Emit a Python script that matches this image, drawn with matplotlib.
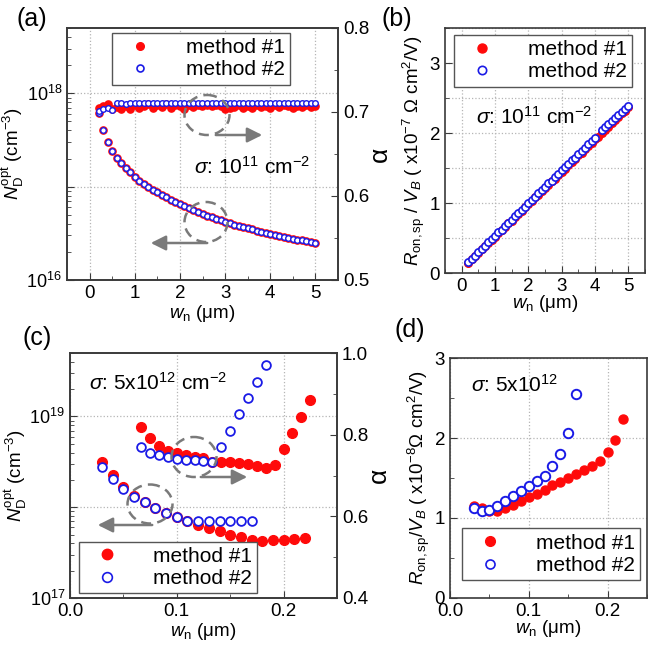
import matplotlib
matplotlib.use('Agg')
import matplotlib.pyplot as plt
from matplotlib.lines import Line2D
from matplotlib.patches import Ellipse, FancyArrowPatch
from matplotlib.ticker import MultipleLocator, LogLocator, NullFormatter, FixedLocator

plt.rcParams['font.family'] = ['Liberation Sans', 'DejaVu Sans']
plt.rcParams['mathtext.fontset'] = 'custom'
plt.rcParams['mathtext.rm'] = 'Liberation Sans'
plt.rcParams['mathtext.it'] = 'Liberation Sans:italic'
plt.rcParams['mathtext.bf'] = 'Liberation Sans:bold'
plt.rcParams['xtick.direction'] = 'in'
plt.rcParams['ytick.direction'] = 'in'

RED = '#ff0a0a'
BLUE = '#1a1ae6'
GREY = '#7a7a7a'

# ---- (a) sigma = 1e11, w_n in um ----
w_a = [0.2, 0.3, 0.4, 0.5, 0.6, 0.7, 0.8, 0.9, 1.0, 1.1, 1.2, 1.3, 1.4, 1.5, 1.6, 1.7,
       1.8, 1.9, 2.0, 2.1, 2.2, 2.3, 2.4, 2.5, 2.6, 2.7, 2.8, 2.9, 3.0, 3.1, 3.2, 3.3,
       3.4, 3.5, 3.6, 3.7, 3.8, 3.9, 4.0, 4.1, 4.2, 4.3, 4.4, 4.5, 4.6, 4.7, 4.8, 4.9, 5.0]
# N_D^opt in units of 1e16 cm^-3 (both methods overlap)
nd_a = [61, 40, 30, 24, 20.4, 18.0, 15.9, 14.3, 12.7, 11.6, 10.7, 9.9, 9.3, 8.7, 8.2, 7.7,
        7.2, 6.9, 6.5, 6.15, 5.9, 5.6, 5.35, 5.1, 4.9, 4.7, 4.52, 4.35, 4.2, 4.06, 3.93, 3.81,
        3.69, 3.58, 3.48, 3.38, 3.29, 3.2, 3.12, 3.04, 2.97, 2.9, 2.83, 2.77, 2.71, 2.65, 2.59, 2.54, 2.48]
alpha_a1 = [0.705, 0.707, 0.709, 0.704, 0.706, 0.703, 0.707, 0.704, 0.708, 0.705, 0.707, 0.709,
            0.705, 0.708, 0.706, 0.709, 0.705, 0.708, 0.707, 0.704, 0.708, 0.706, 0.708, 0.707,
            0.708, 0.707, 0.708, 0.707, 0.703, 0.705, 0.706, 0.708, 0.705, 0.707, 0.705, 0.708,
            0.706, 0.707, 0.705, 0.708, 0.706, 0.708, 0.707, 0.705, 0.707, 0.706, 0.708, 0.706, 0.707]
alpha_a2 = [0.701, 0.703, 0.705, 0.702, 0.711, 0.711, 0.710, 0.711, 0.711, 0.711, 0.711, 0.711,
            0.711, 0.711, 0.711, 0.711, 0.711, 0.711, 0.711, 0.711, 0.711, 0.711, 0.711, 0.711,
            0.711, 0.711, 0.711, 0.711, 0.711, 0.711, 0.711, 0.711, 0.711, 0.711, 0.711, 0.711,
            0.711, 0.711, 0.711, 0.711, 0.711, 0.711, 0.711, 0.711, 0.711, 0.711, 0.711, 0.711, 0.711]

# ---- (b) R_on,sp / V_B, x1e-7 ----
w_b1 = w_a
r_b1 = [0.15, 0.20, 0.24, 0.29, 0.34, 0.38, 0.43, 0.47, 0.52, 0.57, 0.61, 0.66, 0.71, 0.75,
        0.80, 0.84, 0.89, 0.94, 0.98, 1.03, 1.08, 1.12, 1.17, 1.21, 1.26, 1.31, 1.35, 1.40,
        1.45, 1.49, 1.54, 1.58, 1.63, 1.68, 1.72, 1.77, 1.82, 1.86, 1.91, 1.95, 2.00, 2.05,
        2.09, 2.14, 2.18, 2.23, 2.28, 2.32, 2.37]
w_b2 = [0.2, 0.3, 0.4, 0.5, 0.6, 0.7, 0.8, 0.9, 1.0, 1.1, 1.2, 1.3, 1.4, 1.5, 1.6, 1.7,
        1.8, 1.9, 2.0, 2.1, 2.2, 2.3, 2.4, 2.5, 2.6, 2.7, 2.8, 2.9, 3.0, 3.1, 3.2, 3.3,
        3.4, 3.5, 3.6, 3.7, 3.8, 3.9, 4.0, 4.2, 4.3, 4.4, 4.5, 4.6, 4.7, 4.8, 4.9, 5.0]
r_b2 = [0.16, 0.20, 0.25, 0.30, 0.34, 0.39, 0.44, 0.48, 0.53, 0.58, 0.62, 0.67, 0.72, 0.76,
        0.81, 0.86, 0.90, 0.95, 1.00, 1.04, 1.09, 1.14, 1.18, 1.23, 1.28, 1.32, 1.37, 1.42,
        1.47, 1.51, 1.56, 1.61, 1.65, 1.70, 1.75, 1.79, 1.84, 1.89, 1.93, 2.05, 2.09, 2.13,
        2.17, 2.22, 2.26, 2.30, 2.35, 2.39]

# ---- (c) sigma = 5e12 ----
w_c_alpha1 = [0.0667, 0.075, 0.0833, 0.0917, 0.1, 0.1083, 0.1167, 0.125, 0.1333, 0.1417,
              0.15, 0.1583, 0.1667, 0.175, 0.1833, 0.1917, 0.2, 0.2083, 0.2167, 0.225]
alpha_c1 = [0.820, 0.791, 0.773, 0.760, 0.754, 0.750, 0.746, 0.742, 0.734, 0.733,
            0.734, 0.730, 0.729, 0.723, 0.719, 0.725, 0.764, 0.803, 0.844, 0.885]
w_c_alpha2 = [0.0667, 0.075, 0.0833, 0.0917, 0.1, 0.1083, 0.1167, 0.125, 0.1333, 0.1417,
              0.15, 0.1583, 0.1667, 0.175, 0.1833]
alpha_c2 = [0.771, 0.756, 0.749, 0.745, 0.740, 0.739, 0.738, 0.735, 0.733, 0.771,
            0.810, 0.850, 0.891, 0.930, 0.971]
w_c_nd1 = [0.03, 0.04, 0.05, 0.06, 0.07, 0.08, 0.09, 0.10, 0.11, 0.12,
           0.13, 0.14, 0.15, 0.16, 0.17, 0.18, 0.19, 0.20, 0.21, 0.22]
nd_c1 = [31.8, 22.7, 16.8, 13.4, 11.5, 9.9, 8.7, 7.8, 7.0, 6.4,
         5.9, 5.5, 5.0, 4.7, 4.4, 4.2, 4.3, 4.4, 4.5, 4.6]   # x1e17
w_c_nd2 = [0.03, 0.04, 0.05, 0.06, 0.07, 0.08, 0.09, 0.10, 0.11, 0.12,
           0.13, 0.14, 0.15, 0.16, 0.17]
nd_c2 = [28.0, 20.5, 15.8, 13.1, 11.3, 9.8, 8.7, 7.8, 7.0, 7.0,
         7.0, 7.0, 7.0, 7.0, 7.0]

# ---- (d) R_on,sp / V_B, x1e-8 ----
w_d1 = [0.03, 0.04, 0.05, 0.06, 0.07, 0.08, 0.09, 0.10, 0.11, 0.12,
        0.13, 0.14, 0.15, 0.16, 0.17, 0.18, 0.19, 0.20, 0.21, 0.22]
r_d1 = [1.154, 1.125, 1.09, 1.09, 1.125, 1.166, 1.208, 1.258, 1.304, 1.354,
        1.408, 1.446, 1.50, 1.55, 1.596, 1.646, 1.708, 1.821, 1.971, 2.237]
w_d2 = [0.03, 0.04, 0.05, 0.06, 0.07, 0.08, 0.09, 0.10, 0.11, 0.12, 0.13, 0.14, 0.15, 0.16]
r_d2 = [1.125, 1.083, 1.104, 1.154, 1.208, 1.27, 1.333, 1.396, 1.458, 1.529, 1.646, 1.80, 2.062, 2.554]

W, H = 667, 652
fig = plt.figure(figsize=(W / 100, H / 100), dpi=100)


def px(l, t, r, b):
    return [l / W, 1 - b / H, (r - l) / W, (b - t) / H]


def style(ax):
    for s in ax.spines.values():
        s.set_color('#3a3a3a')
        s.set_linewidth(1.2)
    ax.tick_params(which='both', labelsize=13.5, color='#3a3a3a', top=False)
    ax.tick_params(which='major', length=5)
    ax.tick_params(which='minor', length=3)


grid_kw = dict(color='#b5b5b5', linestyle=':', linewidth=0.9)
xlab = r'$w_{\rm n}$ (μm)'


def legend(ax, ms=6, **kw):
    h = [Line2D([], [], ls='none', marker='o', color=RED, ms=ms),
         Line2D([], [], ls='none', marker='o', mfc='white', mec=BLUE, mew=1.2, ms=ms - 0.5)]
    lg = ax.legend(h, ['method #1', 'method #2'], fontsize=15, fancybox=False,
                   edgecolor='#555555', framealpha=1, handletextpad=1.1, handlelength=2.2,
                   borderpad=0.25, labelspacing=0.15, borderaxespad=0, **kw)
    lg.get_frame().set_linewidth(1.0)
    return lg


# ---------- (a) ----------
ax = fig.add_axes(px(67, 28, 338, 280))
style(ax)
ax.set_yscale('log')
ax.set_xlim(-0.5, 5.5)
ax.set_ylim(1e16, 5e18)
ax.xaxis.set_major_locator(MultipleLocator(1))
ax.xaxis.set_minor_locator(MultipleLocator(0.5))
ax.set_yticks([1e16, 1e17, 1e18])
ax.set_yticklabels([r'$10^{16}$', '', r'$10^{18}$'])
ax.yaxis.set_minor_locator(LogLocator(base=10, subs=(2, 3, 4, 5, 6, 7, 8, 9)))
ax.yaxis.set_minor_formatter(NullFormatter())
ax.tick_params(axis='y', labelsize=13)
ax.grid(True, which='major', **grid_kw)
nd_a_cm = [v * 1e16 for v in nd_a]
ax.plot(w_a, nd_a_cm, 'o', color=RED, ms=5.2, zorder=3)
ax.plot(w_a, nd_a_cm, 'o', mfc='white', mec=BLUE, mew=1.0, ms=4.0, zorder=4)
ax.set_xlabel(xlab, fontsize=13.5, labelpad=1)
ax.set_ylabel(r'$N_{\rm D}^{\rm opt}$ (cm$^{-3}$)', fontsize=13.5, labelpad=0)
ax2 = ax.twinx()
style(ax2)
ax2.set_ylim(0.5, 0.8)
ax2.yaxis.set_major_locator(MultipleLocator(0.1))
ax2.yaxis.set_minor_locator(MultipleLocator(0.05))
ax2.plot(w_a, alpha_a1, 'o', color=RED, ms=5.2, zorder=3)
ax2.plot(w_a, alpha_a2, 'o', mfc='white', mec=BLUE, mew=1.0, ms=4.0, zorder=4)
ax2.set_ylabel('α', fontsize=19, labelpad=-1)
ax2.text(0.683, 0.448, r'$\sigma$: 10$^{11}$ cm$^{-2}$', transform=ax2.transAxes,
         fontsize=15, ha='center', va='center')
legend(ax2, ms=5.5, loc='upper center', bbox_to_anchor=(0.494, 0.98))

# ---------- (b) ----------
ax = fig.add_axes(px(445, 28, 645, 273))
style(ax)
ax.set_xlim(-0.5, 5.5)
ax.set_ylim(0, 3.5)
ax.xaxis.set_major_locator(MultipleLocator(1))
ax.xaxis.set_minor_locator(MultipleLocator(0.5))
ax.yaxis.set_major_locator(FixedLocator([0, 1, 2, 3]))
ax.yaxis.set_minor_locator(MultipleLocator(0.5))
ax.grid(True, which='major', axis='x', **grid_kw)
ax.grid(True, which='both', axis='y', **grid_kw)
ax.plot(w_b1, r_b1, 'o', color=RED, ms=5.5, zorder=3)
ax.plot(w_b2, r_b2, 'o', mfc='white', mec=BLUE, mew=1.2, ms=5.2, zorder=4)
ax.set_xlabel(xlab, fontsize=13.5, labelpad=-1)
ax.set_ylabel(r'$R_{\rm on,sp}$ / $V_B$ ( x10$^{-7}$ Ω cm$^2$/V)', fontsize=13.5, labelpad=2)
ax.text(0.445, 0.637, r'$\sigma$: 10$^{11}$ cm$^{-2}$', transform=ax.transAxes,
        fontsize=15, ha='center', va='center')
legend(ax, ms=6.5, loc='upper center', bbox_to_anchor=(0.49, 0.971))

# ---------- (c) ----------
ax = fig.add_axes(px(70, 353, 337, 598))
style(ax)
ax.set_yscale('log')
ax.set_xlim(0, 0.25)
ax.set_ylim(1e17, 5e19)
ax.set_xticks([0.0, 0.1, 0.2])
ax.set_xticklabels(['0.0', '0.1', '0.2'])
ax.xaxis.set_minor_locator(MultipleLocator(0.05))
ax.set_yticks([1e17, 1e18, 1e19])
ax.set_yticklabels([r'$10^{17}$', '', r'$10^{19}$'])
ax.yaxis.set_minor_locator(LogLocator(base=10, subs=(2, 3, 4, 5, 6, 7, 8, 9)))
ax.yaxis.set_minor_formatter(NullFormatter())
ax.tick_params(axis='y', labelsize=13)
ax.grid(True, which='major', **grid_kw)
ax.plot(w_c_nd1, [v * 1e17 for v in nd_c1], 'o', color=RED, ms=7, zorder=3)
ax.plot(w_c_nd2, [v * 1e17 for v in nd_c2], 'o', mfc='white', mec=BLUE, mew=1.3, ms=6.3, zorder=4)
ax.set_xlabel(xlab, fontsize=13.5, labelpad=1)
ax.set_ylabel(r'$N_{\rm D}^{\rm opt}$ (cm$^{-3}$)', fontsize=13.5, labelpad=0)
ax2 = ax.twinx()
style(ax2)
ax2.set_ylim(0.4, 1.0)
ax2.yaxis.set_major_locator(MultipleLocator(0.2))
ax2.yaxis.set_minor_locator(MultipleLocator(0.1))
ax2.plot(w_c_alpha1, alpha_c1, 'o', color=RED, ms=7, zorder=3)
ax2.plot(w_c_alpha2, alpha_c2, 'o', mfc='white', mec=BLUE, mew=1.3, ms=6.3, zorder=4)
ax2.set_ylabel('α', fontsize=19, labelpad=-1)
ax2.text(0.33, 0.878, r'$\sigma$: 5x10$^{12}$ cm$^{-2}$', transform=ax2.transAxes,
         fontsize=15, ha='center', va='center')
legend(ax2, ms=7.5, loc='lower left', bbox_to_anchor=(0.034, 0.02))

# ---------- (d) ----------
ax = fig.add_axes(px(450, 358, 647, 598))
style(ax)
ax.set_xlim(0, 0.25)
ax.set_ylim(0, 3)
ax.set_xticks([0.0, 0.1, 0.2])
ax.set_xticklabels(['0.0', '0.1', '0.2'])
ax.xaxis.set_minor_locator(MultipleLocator(0.05))
ax.yaxis.set_major_locator(MultipleLocator(1))
ax.yaxis.set_minor_locator(MultipleLocator(0.5))
ax.grid(True, which='major', **grid_kw)
ax.plot(w_d1, r_d1, 'o', color=RED, ms=6.5, zorder=3)
ax.plot(w_d2, r_d2, 'o', mfc='white', mec=BLUE, mew=1.4, ms=6.8, zorder=4)
ax.set_xlabel(xlab, fontsize=13.5, labelpad=-1)
ax.set_ylabel(r'$R_{\rm on,sp}$/$V_B$ ( x10$^{-8}$Ω cm$^2$/V)', fontsize=13.5, labelpad=2)
ax.text(0.33, 0.8875, r'$\sigma$: 5x10$^{12}$', transform=ax.transAxes,
        fontsize=15, ha='center', va='center')
legend(ax, ms=7, loc='lower right', bbox_to_anchor=(0.965, 0.075))

# ---------- overlay: panel letters, dashed circles, arrows ----------
ov = fig.add_axes([0, 0, 1, 1], facecolor='none', zorder=10)
ov.set_xlim(0, W)
ov.set_ylim(H, 0)
ov.axis('off')
for lab, x, y in [('(a)', 32, 19), ('(b)', 397, 19), ('(c)', 37, 338), ('(d)', 410, 330)]:
    ov.text(x, y, lab, fontsize=18, ha='center', va='center')
for cx, cy, ew, eh in [(207, 115, 45, 40), (206, 222, 43, 40), (194, 457, 45, 40), (150, 504, 45, 39)]:
    ov.add_patch(Ellipse((cx, cy), ew, eh, fill=False, ec=GREY, lw=1.8, ls=(0, (4, 2.5))))
for x0, x1, y in [(213, 265, 135), (210, 148, 243), (198, 250, 477), (155, 95, 525)]:
    ov.add_patch(FancyArrowPatch((x0, y), (x1, y), arrowstyle='-|>,head_length=6,head_width=3',
                                 color=GREY, lw=1.8, mutation_scale=1.5))

fig.savefig('out.png', dpi=100)
